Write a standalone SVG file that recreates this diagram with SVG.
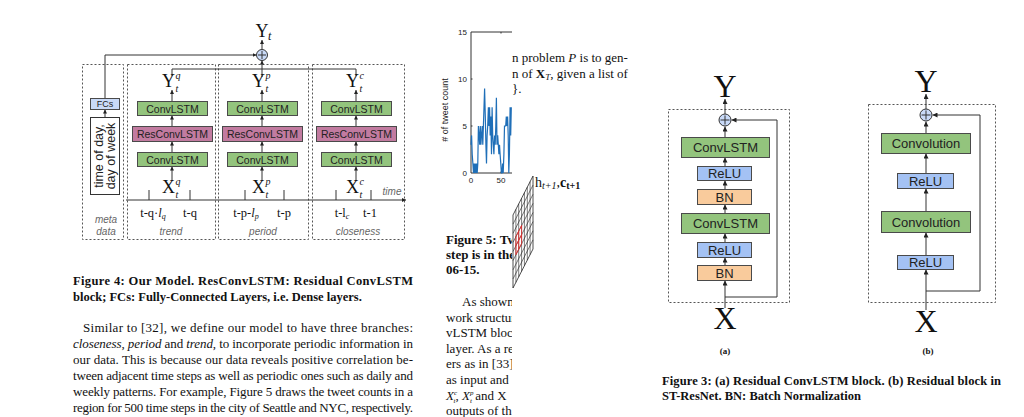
<svg xmlns="http://www.w3.org/2000/svg" width="1024" height="417" viewBox="0 0 1024 417">
<style>
.sans{font-family:"Liberation Sans",Arial,sans-serif;fill:#222}
.serif{font-family:"Liberation Serif","Times New Roman",serif;fill:#111}
.it{font-style:italic}
.bold{font-weight:bold}
.lbl{font-family:"Liberation Sans",Arial,sans-serif;font-style:italic;fill:#666;font-size:10px;text-anchor:middle}
.dash{fill:none;stroke:#555;stroke-width:1;stroke-dasharray:2 2}
.ln{fill:none;stroke:#333;stroke-width:1}
.green{fill:#93c47d;stroke:#4a4a4a;stroke-width:1}
.pink{fill:#c27ba0;stroke:#4a4a4a;stroke-width:1}
.blue{fill:#a4c2f4;stroke:#4a4a4a;stroke-width:1}
.lblue{fill:#c9daf8;stroke:#4a4a4a;stroke-width:1}
.orange{fill:#f9cb9c;stroke:#4a4a4a;stroke-width:1}
.circ{fill:#c9daf8;stroke:#333;stroke-width:1}
.a4{marker-end:url(#ah4)}
.a5{marker-end:url(#ah5)}
</style>
<defs>
<marker id="ah4" viewBox="0 0 6 6" refX="6" refY="3" markerWidth="4" markerHeight="4" orient="auto" markerUnits="userSpaceOnUse"><path d="M0,0 L6,3 L0,6 z" fill="#222"/></marker>
<marker id="ah5" viewBox="0 0 6 6" refX="6" refY="3" markerWidth="5" markerHeight="5" orient="auto" markerUnits="userSpaceOnUse"><path d="M0,0 L6,3 L0,6 z" fill="#222"/></marker>
<clipPath id="col"><rect x="0" y="0" width="512" height="417"/></clipPath>
<clipPath id="plot"><rect x="440" y="20" width="72" height="170"/></clipPath>
</defs>
<rect width="1024" height="417" fill="#fff"/>

<!-- ===================== Figure 4 ===================== -->
<g id="fig4">
<g id="fig4-frames">
<rect class="dash" x="82.5" y="64.5" width="41" height="175"/>
<rect class="dash" x="127.5" y="64.5" width="88" height="175"/>
<rect class="dash" x="218.5" y="64.5" width="90" height="175"/>
<rect class="dash" x="312.5" y="64.5" width="92" height="175"/>
</g>
<g id="fig4-connectors">
<path class="ln a4" d="M105,98 V55 H256.5"/>
<path class="ln a4" d="M105,117 V109.5"/>
<path class="ln" d="M172,76 V69 H356 V76"/>
<path class="ln a4" d="M262,77 V60.5"/>
<path class="ln a4" d="M262,49.5 V40"/>
<path class="ln a4" d="M172,101 V90"/>
<path class="ln a4" d="M172,126 V115.5"/>
<path class="ln a4" d="M172,152 V141.5"/>
<path class="ln a4" d="M172,181 V166.5"/>
<path class="ln a4" d="M262,101 V90"/>
<path class="ln a4" d="M262,126 V115.5"/>
<path class="ln a4" d="M262,152 V141.5"/>
<path class="ln a4" d="M262,181 V166.5"/>
<path class="ln a4" d="M356,101 V90"/>
<path class="ln a4" d="M356,126 V115.5"/>
<path class="ln a4" d="M356,152 V141.5"/>
<path class="ln a4" d="M356,181 V166.5"/>
<path class="ln a4" d="M126,200 H406"/>
<path class="ln" d="M149,190 V200 M190,190 V200 M245,190 V200 M284,190 V200 M336,190 V200 M371,190 V200"/>
</g>
<g id="sum4">
<circle class="circ" cx="262" cy="55" r="5.5"/>
<path class="ln" d="M258,55 H266 M262,51 V59" stroke-width="1.3"/>
</g>
<g id="Yt">
<text class="serif" x="262" y="37" font-size="18" text-anchor="middle">Y</text>
<text class="serif it" x="268" y="40" font-size="12">t</text>
</g>
<g id="fcs">
<rect class="lblue" x="90.5" y="98.5" width="29" height="11"/>
<text class="sans" x="105" y="107" font-size="9" text-anchor="middle">FCs</text>
</g>
<g id="timeofday">
<rect x="90.5" y="117.5" width="29" height="77" fill="#fff" stroke="#333" stroke-width="1"/>
<text class="sans" x="102.5" y="156" font-size="12.5" text-anchor="middle" transform="rotate(-90 102.5 156)">time of day,</text>
<text class="sans" x="115" y="156" font-size="12.5" text-anchor="middle" transform="rotate(-90 115 156)">day of week</text>
</g>
<g id="trend-convlstm-top"><rect class="green" x="137.5" y="101.5" width="70" height="14"/><text class="sans" x="172.5" y="112.5" font-size="10.5" text-anchor="middle">ConvLSTM</text></g>
<g id="trend-res"><rect class="pink" x="132.5" y="126.5" width="80" height="15"/><text class="sans" x="172.5" y="138" font-size="10.5" text-anchor="middle">ResConvLSTM</text></g>
<g id="trend-convlstm-bot"><rect class="green" x="137.5" y="152.5" width="70" height="14"/><text class="sans" x="172.5" y="163.5" font-size="10.5" text-anchor="middle">ConvLSTM</text></g>
<g id="period-convlstm-top"><rect class="green" x="227.5" y="101.5" width="70" height="14"/><text class="sans" x="262.5" y="112.5" font-size="10.5" text-anchor="middle">ConvLSTM</text></g>
<g id="period-res"><rect class="pink" x="222.5" y="126.5" width="80" height="15"/><text class="sans" x="262.5" y="138" font-size="10.5" text-anchor="middle">ResConvLSTM</text></g>
<g id="period-convlstm-bot"><rect class="green" x="227.5" y="152.5" width="70" height="14"/><text class="sans" x="262.5" y="163.5" font-size="10.5" text-anchor="middle">ConvLSTM</text></g>
<g id="close-convlstm-top"><rect class="green" x="321.5" y="101.5" width="70" height="14"/><text class="sans" x="356.5" y="112.5" font-size="10.5" text-anchor="middle">ConvLSTM</text></g>
<g id="close-res"><rect class="pink" x="316.5" y="126.5" width="80" height="15"/><text class="sans" x="356.5" y="138" font-size="10.5" text-anchor="middle">ResConvLSTM</text></g>
<g id="close-convlstm-bot"><rect class="green" x="321.5" y="152.5" width="70" height="14"/><text class="sans" x="356.5" y="163.5" font-size="10.5" text-anchor="middle">ConvLSTM</text></g>
<g id="Yq"><text class="serif" x="175" y="87" font-size="18" text-anchor="end">Y</text><text class="serif it" x="175.5" y="79" font-size="10">q</text><text class="serif it" x="175.5" y="92" font-size="10">t</text></g>
<g id="Yp"><text class="serif" x="265" y="87" font-size="18" text-anchor="end">Y</text><text class="serif it" x="265.5" y="79" font-size="10">p</text><text class="serif it" x="265.5" y="92" font-size="10">t</text></g>
<g id="Yc"><text class="serif" x="359" y="87" font-size="18" text-anchor="end">Y</text><text class="serif it" x="359.5" y="79" font-size="10">c</text><text class="serif it" x="359.5" y="92" font-size="10">t</text></g>
<g id="Xq"><text class="serif" x="175" y="193" font-size="18" text-anchor="end">X</text><text class="serif it" x="175.5" y="185" font-size="10">q</text><text class="serif it" x="175.5" y="198" font-size="10">t</text></g>
<g id="Xp"><text class="serif" x="265" y="193" font-size="18" text-anchor="end">X</text><text class="serif it" x="265.5" y="185" font-size="10">p</text><text class="serif it" x="265.5" y="198" font-size="10">t</text></g>
<g id="Xc"><text class="serif" x="359" y="193" font-size="18" text-anchor="end">X</text><text class="serif it" x="359.5" y="185" font-size="10">c</text><text class="serif it" x="359.5" y="198" font-size="10">t</text></g>
<g id="ticklabels" class="serif" font-size="12.5" fill="#333">
<text x="153" y="217" text-anchor="middle">t-q·<tspan font-style="italic">l</tspan><tspan font-style="italic" font-size="8" dy="2">q</tspan></text>
<text x="190" y="217" text-anchor="middle">t-q</text>
<text x="246" y="217" text-anchor="middle">t-p-<tspan font-style="italic">l</tspan><tspan font-style="italic" font-size="8" dy="2">p</tspan></text>
<text x="284" y="217" text-anchor="middle">t-p</text>
<text x="342" y="217" text-anchor="middle">t-l<tspan font-style="italic" font-size="8" dy="2">c</tspan></text>
<text x="370" y="217" text-anchor="middle">t-1</text>
</g>
<text class="lbl" x="392" y="195">time</text>
<text class="lbl" x="106" y="223">meta</text>
<text class="lbl" x="106" y="235">data</text>
<text class="lbl" x="171" y="235">trend</text>
<text class="lbl" x="263" y="235">period</text>
<text class="lbl" x="358" y="235">closeness</text>
</g>

<g id="fig4-caption" class="serif bold" font-size="12.5">
<text x="73" y="285" textLength="340" lengthAdjust="spacing">Figure 4: Our Model. ResConvLSTM: Residual ConvLSTM</text>
<text x="73" y="301">block; FCs: Fully-Connected Layers, i.e. Dense layers.</text>
</g>
<g id="fig4-text" class="serif" font-size="13">
<text x="83" y="332" textLength="330" lengthAdjust="spacing">Similar to [32], we define our model to have three branches:</text>
<text x="73" y="348" textLength="340" lengthAdjust="spacing"><tspan font-style="italic">closeness</tspan>, <tspan font-style="italic">period</tspan> and <tspan font-style="italic">trend</tspan>, to incorporate periodic information in</text>
<text x="73" y="364" textLength="340" lengthAdjust="spacing">our data. This is because our data reveals positive correlation be-</text>
<text x="73" y="380" textLength="340" lengthAdjust="spacing">tween adjacent time steps as well as periodic ones such as daily and</text>
<text x="73" y="396" textLength="340" lengthAdjust="spacing">weekly patterns. For example, Figure 5 draws the tweet counts in a</text>
<text x="73" y="412" textLength="340" lengthAdjust="spacing">region for 500 time steps in the city of Seattle and NYC, respectively.</text>
</g>

<!-- ===================== Figure 5 fragment ===================== -->
<g id="fig5-plot">
<g clip-path="url(#plot)">
<path class="ln" d="M471,32 V173 H520 M471,32 H520" stroke-width="0.8"/>
<path class="ln" d="M471,79 h1.5 M471,126 h1.5 M501,32 v1.5 M501,173 v-1.5" stroke-width="0.8"/>
<polyline fill="none" stroke="#1f6fb8" stroke-width="1.2" points="471,144.8 471.6,135.4 472.2,154.2 472.9,163.6 473.5,173 474.1,163.6 474.7,173 475.3,163.6 476,173 476.6,163.6 477.2,173 477.8,163.6 478.4,126 479.1,135.4 479.7,144.8 480.3,126 480.9,144.8 481.5,135.4 482.2,126 482.8,144.8 483.4,126 484,107.2 484.6,88.4 485.3,116.6 485.9,144.8 486.5,163.6 487.1,135.4 487.7,126 488.4,107.2 489,126 489.6,107.2 490.2,135.4 490.8,116.6 491.5,154.2 492.1,107.2 492.7,135.4 493.3,144.8 493.9,154.2 494.6,135.4 495.2,144.8 495.8,126 496.4,97.8 497,144.8 497.7,135.4 498.3,144.8 498.9,154.2 499.5,144.8 500.1,154.2 500.8,163.6 501.4,173 502,173 502.6,163.6 503.2,173 503.9,154.2 504.5,126 505.1,126 505.7,126 506.3,116.6 507,126 507.6,116.6 508.2,135.4 508.8,173 509.4,154.2 510.1,107.2 510.7,135.4 511.3,107.2"/>
</g>
<g class="sans" font-size="8" fill="#444">
<text x="467" y="35" text-anchor="end">15</text>
<text x="467" y="82" text-anchor="end">10</text>
<text x="467" y="129" text-anchor="end">5</text>
<text x="467" y="176" text-anchor="end">0</text>
<text x="471" y="183" text-anchor="middle">0</text>
<text x="501" y="183" text-anchor="middle">50</text>
</g>
<text class="sans" x="448" y="110" font-size="9" fill="#333" text-anchor="middle" transform="rotate(-90 448 110)"># of tweet count</text>
</g>

<g id="text-col2" class="serif" font-size="13">
<text x="512" y="62">n problem <tspan font-style="italic">P</tspan> is to gen-</text>
<text x="512" y="78">n of <tspan font-weight="bold">X</tspan><tspan font-style="italic" font-size="9" dy="2">T</tspan><tspan dy="-2">, given a list of</tspan></text>
<text x="512" y="93">}.</text>
</g>

<g id="fig5-text" class="serif" font-size="13" clip-path="url(#col)">
<text x="446" y="244" font-weight="bold">Figure 5: Tw</text>
<text x="446" y="259" font-weight="bold">step is in the</text>
<text x="446" y="274" font-weight="bold">06-15.</text>
<text x="462" y="306">As shown</text>
<text x="446" y="321.6">work structur</text>
<text x="446" y="337.2">vLSTM block</text>
<text x="446" y="352.8">layer. As a re</text>
<text x="446" y="368.4">ers as in [33]</text>
<text x="446" y="384">as input and</text>
<text x="446" y="399.6"><tspan font-style="italic">X</tspan><tspan font-style="italic" font-size="7" dy="-5">c</tspan><tspan font-style="italic" font-size="7" dx="-3.5" dy="8">t</tspan><tspan dy="-3">, </tspan><tspan font-style="italic">X</tspan><tspan font-style="italic" font-size="7" dy="-5">p</tspan><tspan font-style="italic" font-size="7" dx="-3.5" dy="8">t</tspan><tspan dy="-3"> and X</tspan></text>
<text x="446" y="415">outputs of th</text>
</g>

<g id="grid-plane">
<polygon points="513,215 533,176 533,249 513,288" fill="#fff" stroke="#222" stroke-width="0.8"/>
<path fill="none" stroke="#222" stroke-width="0.6" d="M515.9,209.4 V282.4 M518.7,203.9 V276.9 M521.6,198.3 V271.3 M524.4,192.7 V265.7 M527.3,187.1 V260.1 M530.1,181.6 V254.6 M513,224.1 L533,185.1 M513,233.3 L533,194.3 M513,242.4 L533,203.4 M513,251.5 L533,212.5 M513,260.6 L533,221.6 M513,269.8 L533,230.8 M513,278.9 L533,239.9"/>
<path fill="none" stroke="#e0302f" stroke-width="0.9" d="M515.9,236.5 L521.6,225.4 V243.7 L515.9,254.6 Z M518.7,231 V249.2 M515.9,245.6 L521.6,234.6"/>
</g>
<g id="h-label" class="serif" font-size="14">
<text x="535" y="187">h<tspan font-style="italic" font-size="10" dy="2">t+1</tspan><tspan dy="-2">,</tspan><tspan font-weight="bold">c</tspan><tspan font-weight="bold" font-size="10" dy="2">t+1</tspan></text>
</g>

<!-- ===================== Figure 3 (a) ===================== -->
<g id="fig3a">
<rect class="dash" x="668.5" y="109.5" width="121" height="193"/>
<g id="fig3a-connectors">
<path class="ln a5" d="M725,114 V99"/>
<path class="ln a5" d="M725,137 V126.5"/>
<path class="ln a5" d="M725,166 V157.5"/>
<path class="ln a5" d="M725,189 V180.5"/>
<path class="ln a5" d="M725,213 V204.5"/>
<path class="ln a5" d="M725,242 V233.5"/>
<path class="ln a5" d="M725,265 V257.5"/>
<path class="ln a5" d="M725,308 V280.5"/>
<path class="ln a5" d="M725,297 H777 V120 H731.5"/>
</g>
<g id="a-sum"><circle class="circ" cx="725" cy="120" r="6"/><path class="ln" d="M720.5,120 H729.5 M725,115.5 V124.5" stroke-width="1.4"/></g>
<g id="a-conv1"><rect class="green" x="681.5" y="137.5" width="88" height="20"/><text class="sans" x="725.5" y="152" font-size="13" text-anchor="middle">ConvLSTM</text></g>
<g id="a-relu1"><rect class="blue" x="697.5" y="166.5" width="54" height="14"/><text class="sans" x="724.5" y="178" font-size="13" text-anchor="middle">ReLU</text></g>
<g id="a-bn1"><rect class="orange" x="697.5" y="189.5" width="54" height="15"/><text class="sans" x="724.5" y="201.5" font-size="13" text-anchor="middle">BN</text></g>
<g id="a-conv2"><rect class="green" x="681.5" y="213.5" width="88" height="20"/><text class="sans" x="725.5" y="228" font-size="13" text-anchor="middle">ConvLSTM</text></g>
<g id="a-relu2"><rect class="blue" x="697.5" y="242.5" width="54" height="15"/><text class="sans" x="724.5" y="254.5" font-size="13" text-anchor="middle">ReLU</text></g>
<g id="a-bn2"><rect class="orange" x="697.5" y="265.5" width="54" height="15"/><text class="sans" x="724.5" y="277.5" font-size="13" text-anchor="middle">BN</text></g>
<text class="serif" x="725" y="97" font-size="32" text-anchor="middle">Y</text>
<text class="serif" x="725" y="329" font-size="32" text-anchor="middle">X</text>
<text class="serif bold" x="725" y="354" font-size="9" text-anchor="middle">(a)</text>
</g>

<!-- ===================== Figure 3 (b) ===================== -->
<g id="fig3b">
<rect class="dash" x="868.5" y="104.5" width="127" height="198"/>
<g id="fig3b-connectors">
<path class="ln a5" d="M926,109 V94"/>
<path class="ln a5" d="M926,133 V121.5"/>
<path class="ln a5" d="M926,173 V153.5"/>
<path class="ln a5" d="M926,211 V188.5"/>
<path class="ln a5" d="M926,255 V232.5"/>
<path class="ln a5" d="M926,310 V269.5"/>
<path class="ln a5" d="M926,291 H980 V115 H932.5"/>
</g>
<g id="b-sum"><circle class="circ" cx="926" cy="115" r="6"/><path class="ln" d="M921.5,115 H930.5 M926,110.5 V119.5" stroke-width="1.4"/></g>
<g id="b-conv1"><rect class="green" x="881.5" y="133.5" width="89" height="20"/><text class="sans" x="926" y="148" font-size="13" text-anchor="middle">Convolution</text></g>
<g id="b-relu1"><rect class="blue" x="897.5" y="173.5" width="56" height="15"/><text class="sans" x="925.5" y="185.5" font-size="13" text-anchor="middle">ReLU</text></g>
<g id="b-conv2"><rect class="green" x="881.5" y="211.5" width="89" height="21"/><text class="sans" x="926" y="226.5" font-size="13" text-anchor="middle">Convolution</text></g>
<g id="b-relu2"><rect class="blue" x="897.5" y="255.5" width="56" height="14"/><text class="sans" x="925.5" y="267" font-size="13" text-anchor="middle">ReLU</text></g>
<text class="serif" x="926" y="92" font-size="32" text-anchor="middle">Y</text>
<text class="serif" x="926" y="332" font-size="32" text-anchor="middle">X</text>
<text class="serif bold" x="928" y="354" font-size="9" text-anchor="middle">(b)</text>
</g>

<g id="fig3-caption" class="serif bold" font-size="12.5">
<text x="662" y="385" textLength="339" lengthAdjust="spacing">Figure 3: (a) Residual ConvLSTM block. (b) Residual block in</text>
<text x="662" y="400">ST-ResNet. BN: Batch Normalization</text>
</g>
</svg>
